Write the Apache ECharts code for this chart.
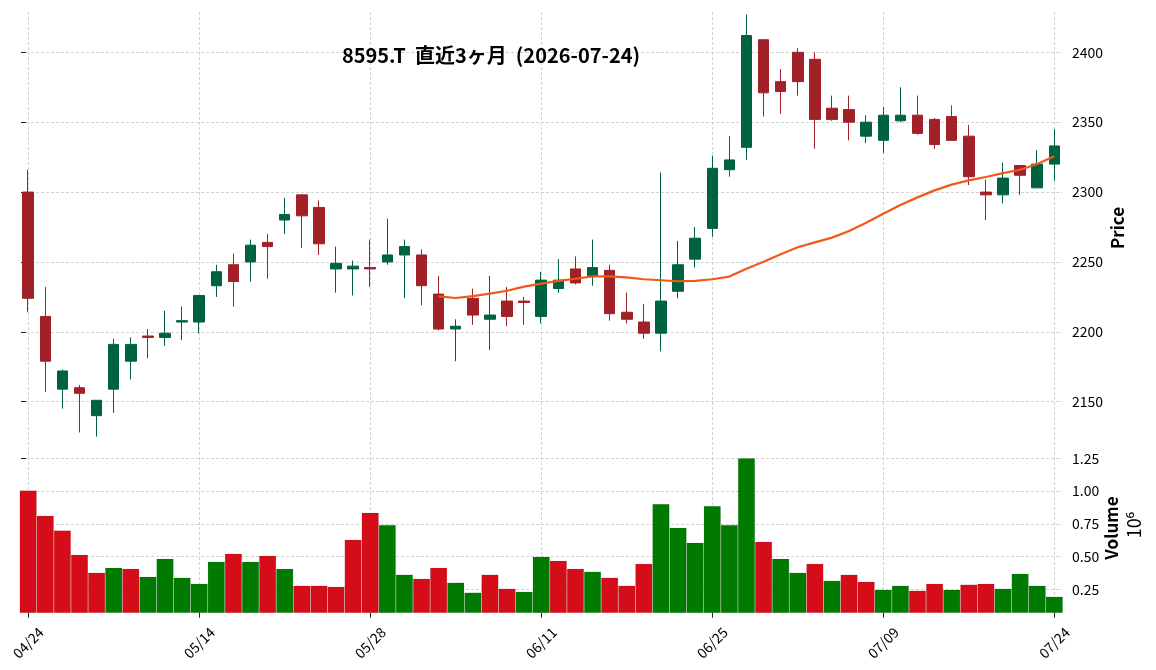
<!DOCTYPE html>
<html><head><meta charset="utf-8">
<script src="https://cdn.jsdelivr.net/npm/echarts@6/dist/echarts.min.js"></script>
<style>html,body{margin:0;padding:0;background:#fff}#c{width:1156px;height:670px}</style>
</head><body><div id="c"></div>
<script>
const dates = ['04/24','04/27','04/28','04/30','05/01','05/07','05/08','05/11','05/12','05/13',
  '05/14','05/15','05/18','05/19','05/20','05/21','05/22','05/25','05/26','05/27',
  '05/28','05/29','06/01','06/02','06/03','06/04','06/05','06/08','06/09','06/10',
  '06/11','06/12','06/15','06/16','06/17','06/18','06/19','06/22','06/23','06/24',
  '06/25','06/26','06/29','06/30','07/01','07/02','07/03','07/06','07/07','07/08',
  '07/09','07/10','07/13','07/14','07/15','07/16','07/17','07/21','07/22','07/23','07/24'];
const opens = [2300,2211,2159,2160,2140,2159,2179,2197,2196,2207,
  2207,2233,2248,2250,2264,2280,2298,2289,2245,2245,
  2246,2250,2255,2255,2227,2202,2224,2209,2222,2222,
  2211,2231,2245,2240,2244,2214,2207,2199,2229,2252,
  2274,2316,2332,2409,2379,2400,2395,2360,2359,2340,
  2337,2351,2355,2352,2354,2340,2300,2298,2319,2303,2320];
const closes = [2224,2179,2172,2156,2151,2191,2191,2196,2199,2208,
  2226,2243,2236,2262,2261,2284,2283,2263,2249,2247,
  2245,2255,2261,2233,2202,2204,2212,2212,2211,2221,
  2237,2237,2235,2246,2213,2209,2199,2222,2248,2267,
  2317,2323,2412,2371,2372,2379,2352,2352,2350,2350,
  2355,2355,2342,2334,2337,2311,2298,2310,2312,2320,2333];
const lows = [2214,2157,2145,2128,2125,2142,2166,2181,2190,2194,
  2199,2225,2218,2236,2238,2270,2260,2255,2228,2226,
  2232,2248,2224,2219,2201,2179,2205,2187,2204,2205,
  2206,2228,2234,2233,2208,2206,2195,2186,2224,2246,
  2268,2311,2323,2354,2356,2369,2331,2351,2337,2335,
  2328,2350,2341,2331,2337,2305,2280,2292,2298,2303,2308];
const highs = [2316,2232,2173,2162,2151,2195,2196,2202,2215,2218,
  2226,2248,2256,2266,2270,2296,2298,2294,2261,2251,
  2266,2281,2266,2259,2240,2209,2231,2240,2232,2225,
  2243,2252,2254,2266,2248,2228,2220,2314,2265,2275,
  2326,2340,2427,2409,2388,2403,2400,2369,2369,2355,
  2361,2375,2369,2353,2362,2348,2309,2321,2319,2330,2345];
const volumes = [1004000,811000,699000,514000,377000,415000,407000,346000,483000,339000,
  293000,461000,522000,461000,506000,407000,278000,278000,270000,628000,
  834000,742000,362000,331000,415000,301000,225000,362000,255000,232000,
  499000,468000,407000,385000,339000,278000,445000,902000,720000,605000,
  887000,742000,1250000,613000,483000,377000,445000,316000,362000,308000,
  247000,278000,240000,293000,247000,286000,293000,255000,369000,278000,194000];
// 1 = close above previous close (green volume), 0 = below (red volume)
const volumeUp = [0,0,0,0,0,1,0,1,1,1,
  1,1,0,1,0,1,0,0,0,0,
  0,1,1,0,0,1,1,0,0,1,
  1,0,0,1,0,0,0,1,1,1,
  1,1,1,0,1,1,0,1,0,0,
  1,1,0,0,1,0,0,1,1,1,1];
const maStart = 24;
const ma25 = [2225.4,2224.2,2225.6,2227.3,2229.4,2232.3,2234.5,2236.4,2238.0,2239.7,
  2239.7,2239.0,2237.6,2236.9,2236.2,2236.4,2237.6,2239.5,2245.2,2250.2,
  2255.5,2260.5,2264.0,2267.4,2272.2,2278.1,2284.5,2290.7,2296.2,2301.2,
  2305.3,2308.4,2310.8,2313.6,2316.0,2320.1,2325.6];
const priceTicks = {min: 2150, max: 2400, step: 50};
const volumeTicks = {min: 250000, max: 1250000, step: 250000};
const titleText = '8595.T  直近3ヶ月  (2026-07-24)';

const FONT = '"Noto Sans CJK JP", "Noto Sans", sans-serif';
const UP = '#006340', DOWN = '#A02128';
const VUP = '#007a00', VDOWN = '#d50d18';
const gridLine = {show: true, lineStyle: {color: '#c6c6c6', width: 0.8, type: [3, 2]}};

const chart = echarts.init(document.getElementById('c'), null, {renderer: 'canvas'});
const g = (l, r, t, h) => ({left: l, right: r, top: t, height: h, containLabel: false, outerBoundsMode: 'none'});
const hiddenX = (gi, min, max) => ({type: 'value', gridIndex: gi, min, max, show: false});
const hiddenY = (gi, min, max) => ({type: 'value', gridIndex: gi, min, max, show: false, scale: true});

chart.setOption({
  animation: false,
  backgroundColor: '#ffffff',
  title: {
    text: titleText, left: 491, top: 45, textAlign: 'center', padding: 0,
    textStyle: {fontFamily: FONT, fontSize: 20, fontWeight: 'bold', color: '#000'}
  },
  grid: [
    g(21, 94, 12, 428),          // 0 price series
    g(21, 94, 52.3, 349.4),      // 1 price horizontal grid + labels
    g(28.18, 101.7, 12, 428),    // 2 price vertical grid
    g(21, 94, 442, 170.7),       // 3 volume series
    g(21, 94, 458.3, 131),       // 4 volume horizontal grid + labels
    g(28.18, 101.7, 442, 170.7)  // 5 volume vertical grid + x labels
  ],
  xAxis: [
    hiddenX(0, -0.42, 60.45),
    hiddenX(1, 0, 1),
    {type: 'value', gridIndex: 2, min: 0, max: 60, interval: 10,
      axisLine: {show: false}, axisTick: {show: false}, axisLabel: {show: false}, splitLine: gridLine},
    hiddenX(3, -0.42, 60.45),
    hiddenX(4, 0, 1),
    {type: 'value', gridIndex: 5, min: 0, max: 60, interval: 10,
      axisLine: {show: false},
      axisTick: {show: true, length: 5, lineStyle: {color: '#222', width: 1}},
      splitLine: gridLine,
      axisLabel: {show: true, rotate: 45, align: 'center', verticalAlign: 'middle', margin: 30,
        showMinLabel: true, showMaxLabel: true,
        fontFamily: FONT, fontSize: 14, color: '#000',
        formatter: v => dates[v] || ''}}
  ],
  yAxis: [
    hiddenY(0, 2122.6, 2428.84),
    {type: 'value', gridIndex: 1, position: 'right', min: priceTicks.min, max: priceTicks.max, interval: priceTicks.step,
      axisLine: {show: false},
      axisTick: {show: true, length: 5, lineStyle: {color: '#222', width: 1}},
      splitLine: gridLine,
      axisLabel: {show: true, margin: 10, fontFamily: FONT, fontSize: 14, color: '#000',
        formatter: v => String(v)}},
    hiddenY(2, 0, 1),
    hiddenY(3, 71400, 1374400),
    {type: 'value', gridIndex: 4, position: 'right', min: volumeTicks.min, max: volumeTicks.max, interval: volumeTicks.step,
      axisLine: {show: false},
      axisTick: {show: true, length: 5, lineStyle: {color: '#222', width: 1}},
      splitLine: gridLine,
      axisLabel: {show: true, margin: 10, fontFamily: FONT, fontSize: 14, color: '#000',
        formatter: v => (v / 1e6).toFixed(2)}},
    hiddenY(5, 0, 1)
  ],
  graphic: [
    {type: 'text', x: 1118, y: 228, rotation: Math.PI / 2,
      style: {text: 'Price', fontFamily: FONT, fontSize: 17, fontWeight: 'bold', fill: '#000',
        textAlign: 'center', textVerticalAlign: 'middle'}},
    {type: 'text', x: 1112, y: 528, rotation: Math.PI / 2,
      style: {text: 'Volume', fontFamily: FONT, fontSize: 17, fontWeight: 'bold', fill: '#000',
        textAlign: 'center', textVerticalAlign: 'middle'}},
    {type: 'text', x: 1134, y: 525, rotation: Math.PI / 2,
      style: {text: '10⁶', fontFamily: FONT, fontSize: 18, fill: '#000',
        textAlign: 'center', textVerticalAlign: 'middle'}}
  ],
  series: [
    {type: 'candlestick', xAxisIndex: 0, yAxisIndex: 0, barWidth: 11, clip: false,
      encode: {x: 0, y: [1, 2, 3, 4]},
      data: dates.map((d, i) => [i, opens[i], closes[i], lows[i], highs[i]]),
      itemStyle: {color: UP, color0: DOWN, borderColor: UP, borderColor0: DOWN, borderWidth: 1}},
    {type: 'line', xAxisIndex: 0, yAxisIndex: 0, showSymbol: false, symbol: 'none',
      data: ma25.map((v, k) => [maStart + k, v]),
      lineStyle: {color: '#ef5a16', width: 2.2}, z: 5},
    {type: 'bar', xAxisIndex: 3, yAxisIndex: 3, barWidth: 17.1,
      data: volumes.map((v, i) => ({value: [i, v],
        itemStyle: {color: volumeUp[i] ? VUP : VDOWN, borderColor: 'rgba(0,0,0,0.12)', borderWidth: 0.6}}))}
  ]
});
</script></body></html>
